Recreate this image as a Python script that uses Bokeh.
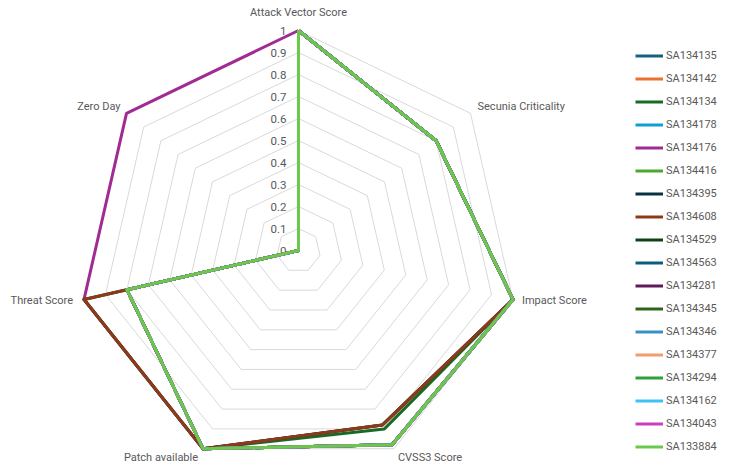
import numpy as np
from bokeh.plotting import figure
from bokeh.models import Legend, LegendItem
from bokeh.core.properties import value
from bokeh.embed import file_html
from bokeh.resources import INLINE

# Radar axes, clockwise from the top
categories = ["Attack Vector Score", "Secunia Criticality", "Impact Score",
              "CVSS3 Score", "Patch available", "Threat Score", "Zero Day"]

# Radial scale
ring_values = [0.1, 0.2, 0.3, 0.4, 0.5, 0.6, 0.7, 0.8, 0.9, 1.0]
tick_labels = ["0", "0.1", "0.2", "0.3", "0.4", "0.5", "0.6", "0.7", "0.8", "0.9", "1"]
tick_values = [0.0, 0.1, 0.2, 0.3, 0.4, 0.5, 0.6, 0.7, 0.8, 0.9, 1.0]

# Advisory scores, one list per advisory (order follows categories)
series_names = ["SA134135", "SA134142", "SA134134", "SA134178", "SA134176", "SA134416",
                "SA134395", "SA134608", "SA134529", "SA134563", "SA134281", "SA134345",
                "SA134346", "SA134377", "SA134294", "SA134162", "SA134043", "SA133884"]

SA134135 = [1, 0.8, 1, 0.98, 1, 0.8, 0]
SA134142 = [1, 0.8, 1, 0.98, 1, 0.8, 0]
SA134134 = [1, 0.8, 1, 0.9, 1, 0.8, 0]
SA134178 = [1, 0.8, 1, 0.98, 1, 0.8, 0]
SA134176 = [1, 0.8, 1, 0.88, 1, 1, 1]
SA134416 = [1, 0.8, 1, 0.98, 1, 0.8, 0]
SA134395 = [1, 0.8, 1, 0.88, 1, 1, 0]
SA134608 = [1, 0.8, 1, 0.88, 1, 1, 0]
SA134529 = [1, 0.8, 1, 0.98, 1, 0.8, 0]
SA134563 = [1, 0.8, 1, 0.98, 1, 0.8, 0]
SA134281 = [1, 0.8, 1, 0.98, 1, 0.8, 0]
SA134345 = [1, 0.8, 1, 0.98, 1, 0.8, 0]
SA134346 = [1, 0.8, 1, 0.98, 1, 0.8, 0]
SA134377 = [1, 0.8, 1, 0.98, 1, 0.8, 0]
SA134294 = [1, 0.8, 1, 0.98, 1, 0.8, 0]
SA134162 = [1, 0.8, 1, 0.98, 1, 0.8, 0]
SA134043 = [1, 0.8, 1, 0.98, 1, 0.8, 0]
SA133884 = [1, 0.8, 1, 0.98, 1, 0.8, 0]

series_values = [SA134135, SA134142, SA134134, SA134178, SA134176, SA134416,
                 SA134395, SA134608, SA134529, SA134563, SA134281, SA134345,
                 SA134346, SA134377, SA134294, SA134162, SA134043, SA133884]

colors = ["#156082", "#E97132", "#196B24", "#0F9ED5", "#A02B93", "#4EA72E",
          "#0B3041", "#8C3C15", "#0F4016", "#095F80", "#601A58", "#2F641C",
          "#3A8FC4", "#F09D6E", "#2DA23A", "#3CC3F5", "#CD3DC2", "#6AC84A"]

# ---- geometry -------------------------------------------------------------
W, H = 730, 465
R_PX = 220.0           # pixel length of the radial unit
CX, CY = 298.0, 250.0  # pixel position of the centre (from top-left)

n = len(categories)
theta = np.arange(n) * 2 * np.pi / n


def polar(vals):
    v = np.asarray(vals, dtype=float)
    return v * np.sin(theta), v * np.cos(theta)


TEXT_COLOR = "#595959"
FONT = "Roboto"

p = figure(width=W, height=H, output_backend="svg", toolbar_location=None,
           x_range=(-CX / R_PX, (W - CX) / R_PX),
           y_range=(-(H - CY) / R_PX, CY / R_PX),
           x_axis_location=None, y_axis_location=None,
           min_border=0, outline_line_color=None)
p.grid.visible = False
p.background_fill_color = "white"
p.border_fill_color = "white"

# heptagonal grid rings
ring_xs, ring_ys = [], []
for v in ring_values:
    x, y = polar([v] * n)
    ring_xs.append(list(x) + [x[0]])
    ring_ys.append(list(y) + [y[0]])
p.multi_line(ring_xs, ring_ys, line_color="#D9D9D9", line_width=1)

# radial value labels along the top spoke
p.text(x=[0.0] * len(tick_values), y=tick_values, text=tick_labels,
       x_offset=-12, text_align="right", text_baseline="middle",
       text_font=value(FONT), text_font_size="11.5px", text_color=TEXT_COLOR)

# category labels around the outside
cx, cy = polar([1.0] * n)
label_dx = [0, 7, 9, 4, -5, -11, -6]
label_dy = [-18, -7, 1, 9, 9, 1, -7]
label_align = ["center", "left", "left", "left", "right", "right", "right"]
p.text(x=list(cx), y=list(cy), text=categories,
       x_offset=label_dx, y_offset=label_dy, text_align=label_align,
       text_baseline="middle", text_font=value(FONT),
       text_font_size="11px", text_color=TEXT_COLOR)

# series polygons
items = []
for name, vals, col in zip(series_names, series_values, colors):
    x, y = polar(vals)
    r = p.line(list(x) + [x[0]], list(y) + [y[0]], line_color=col,
               line_width=3, line_join="round")
    items.append(LegendItem(label=name, renderers=[r]))

legend = Legend(items=items, location=(635, 8), orientation="vertical",
                padding=0, margin=0, spacing=2, label_height=21,
                glyph_height=21, glyph_width=28, label_standoff=3,
                border_line_color=None, background_fill_alpha=0,
                label_text_font=FONT, label_text_font_size="11px",
                label_text_color=TEXT_COLOR)
p.add_layout(legend, "center")

open("out.html", "w").write(file_html(p, INLINE))
